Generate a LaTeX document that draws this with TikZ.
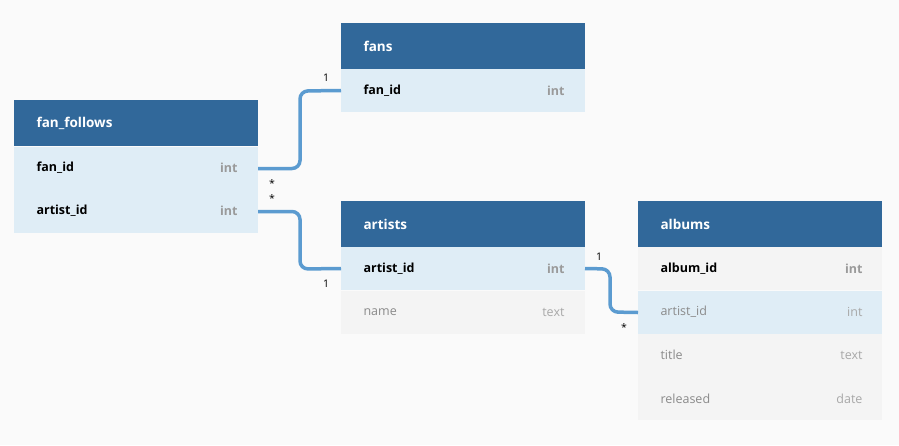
\documentclass[tikz,border=0pt]{standalone}
\usepackage{fontspec}
\setmainfont{Open Sans}
\definecolor{hdr}{HTML}{31689A}
\definecolor{rowb}{HTML}{DFEDF6}
\definecolor{rowg}{HTML}{F4F4F4}
\definecolor{bg}{HTML}{FAFAFA}
\definecolor{lnk}{HTML}{5B9BD0}
\definecolor{typ}{HTML}{9A9A9A}
\definecolor{typl}{HTML}{A8A8A8}
\definecolor{nm}{HTML}{8A8A8A}
\begin{document}
\begin{tikzpicture}[x=1pt,y=-1pt,
  box/.style={anchor=north west,minimum width=244pt,inner sep=0pt,outer sep=0pt},
  head/.style={box,fill=hdr,minimum height=46pt},
  rb/.style={box,fill=rowb,minimum height=43pt},
  rg/.style={box,fill=rowg,minimum height=43pt},
  ttl/.style={anchor=west,text=white,font=\bfseries\fontsize{13.5}{16}\selectfont},
  fb/.style={anchor=west,font=\bfseries\fontsize{12.5}{15}\selectfont},
  fn/.style={anchor=west,text=nm,font=\fontsize{12.5}{15}\selectfont},
  tb/.style={anchor=east,text=typ,font=\bfseries\fontsize{12.5}{15}\selectfont},
  tn/.style={anchor=east,text=typl,font=\fontsize{12.5}{15}\selectfont},
  link/.style={draw=lnk,line width=3.5pt,rounded corners=8pt},
  card/.style={font=\fontsize{10.5}{12}\selectfont}]
\fill[bg] (0,0) rectangle (899,445);
% fans
\node[head] (fansH) at (341,23) {};
\node[ttl] at (360,46) {fans};
\node[rb] (fansR1) at (341,69) {};
\node[fb] at (360,91) {fan\_id}; \node[tb] at (568,91) {int};
% fan_follows
\node[head] (ffH) at (14,100) {};
\node[ttl] at (33,123) {fan\_follows};
\node[rb] (ffR1) at (14,147) {};
\node[rb] (ffR2) at (14,190) {};
\node[fb] at (33,168) {fan\_id}; \node[tb] at (241,168) {int};
\node[fb] at (33,211) {artist\_id}; \node[tb] at (241,211) {int};
% artists
\node[head] (arH) at (341,201) {};
\node[ttl] at (360,224) {artists};
\node[rb] (arR1) at (341,247) {};
\node[rg] (arR2) at (341,291) {};
\node[fb] at (360,269) {artist\_id}; \node[tb] at (568,269) {int};
\node[fn] at (360,312) {name}; \node[tn] at (568,312) {text};
% albums
\node[head] (alH) at (638,201) {};
\node[ttl] at (657,224) {albums};
\node[rg] (alR1) at (638,247) {};
\node[rb] (alR2) at (638,291) {};
\node[rg] (alR3) at (638,334) {};
\node[rg] (alR4) at (638,377) {};
\node[fb] at (657,269) {album\_id}; \node[tb] at (866,269) {int};
\node[fn] at (657,312) {artist\_id}; \node[tn] at (866,312) {int};
\node[fn] at (657,355) {title}; \node[tn] at (866,355) {text};
\node[fn] at (657,399) {released}; \node[tn] at (866,399) {date};
% links
\draw[link] (ffR1.east) -- (300,168.5) -- (300,91) -- (fansR1.west);
\draw[link] (ffR2.east) -- (300,211.5) -- (300,269) -- (arR1.west);
\draw[link] (arR1.east) -- (610,269) -- (610,312) -- (alR2.west);
\node[card] at (326,78) {1};
\node[card] at (272,184) {*};
\node[card] at (272,199) {*};
\node[card] at (326,284) {1};
\node[card] at (599,257) {1};
\node[card] at (624,328) {*};
\end{tikzpicture}
\end{document}
